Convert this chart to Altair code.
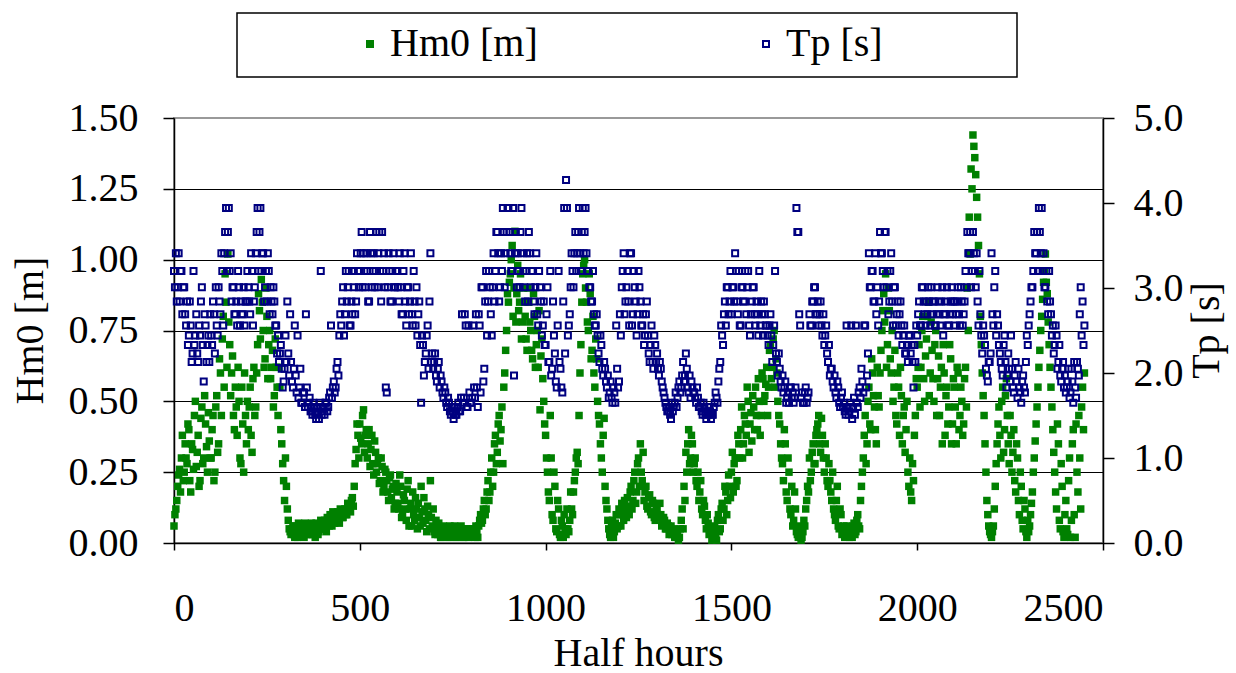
import altair as alt
import pandas as pd

FONT = "Liberation Serif"

# time axis (half hours): main samples every 5 half hours, plus in-between samples
half_hours = list(range(0, 2451, 5))
half_hours_mid = [t + 2.5 for t in range(0, 2450, 5)]

# significant wave height Hm0 [m]
hm0 = [
    0.06, 0.12, 0.20, 0.26, 0.30, 0.22, 0.35, 0.28, 0.40, 0.18, 0.33, 0.45, 0.27, 0.38, 0.22, 0.48, 0.30, 0.42, 0.25, 0.36,
    0.30, 0.45, 0.25, 0.52, 0.35, 0.60, 0.72, 0.55, 0.85, 1.02, 0.70, 0.60, 0.45, 0.55, 0.38, 0.50, 0.28, 0.42, 0.60, 0.35,
    0.40, 0.55, 0.32, 0.62, 0.48, 0.70, 0.82, 0.93, 0.75, 0.65, 0.80, 0.70, 0.58, 0.68, 0.52, 0.62, 0.45, 0.55, 0.35, 0.22,
    0.30, 0.12, 0.05, 0.03, 0.06, 0.02, 0.04, 0.07, 0.03, 0.05, 0.02, 0.06, 0.04, 0.03, 0.07, 0.05, 0.02, 0.06, 0.04, 0.08,
    0.05, 0.08, 0.04, 0.07, 0.10, 0.06, 0.09, 0.08, 0.11, 0.07, 0.10, 0.09, 0.12, 0.10, 0.13, 0.11, 0.16, 0.20, 0.33, 0.38,
    0.42, 0.35, 0.47, 0.38, 0.30, 0.40, 0.33, 0.28, 0.36, 0.25, 0.30, 0.22, 0.27, 0.20, 0.25, 0.18, 0.23, 0.16, 0.20, 0.14,
    0.18, 0.12, 0.20, 0.10, 0.15, 0.08, 0.22, 0.12, 0.06, 0.10, 0.16, 0.05, 0.09, 0.20, 0.07, 0.12, 0.04, 0.10, 0.22, 0.06,
    0.04, 0.08, 0.03, 0.05, 0.02, 0.06, 0.03, 0.04, 0.02, 0.05, 0.03, 0.06, 0.02, 0.04, 0.03, 0.05, 0.02, 0.04, 0.03, 0.05,
    0.03, 0.05, 0.02, 0.04, 0.06, 0.10, 0.08, 0.15, 0.12, 0.22, 0.18, 0.30, 0.25, 0.38, 0.32, 0.45, 0.40, 0.28, 0.60, 0.75,
    0.85, 0.95, 1.05, 0.90, 0.78, 0.98, 0.85, 0.72, 0.90, 0.80, 0.68, 0.85, 0.75, 0.65, 0.80, 0.70, 0.62, 0.47, 0.72, 0.50,
    0.38, 0.25, 0.15, 0.30, 0.08, 0.20, 0.04, 0.12, 0.02, 0.06, 0.10, 0.03, 0.05, 0.08, 0.12, 0.18, 0.25, 0.32, 0.45, 0.70,
    0.95, 1.00, 0.85, 0.75, 0.88, 0.68, 0.60, 0.72, 0.50, 0.42, 0.30, 0.38, 0.20, 0.12, 0.05, 0.02, 0.08, 0.04, 0.10, 0.06,
    0.10, 0.14, 0.08, 0.12, 0.16, 0.10, 0.20, 0.15, 0.25, 0.18, 0.30, 0.35, 0.22, 0.15, 0.20, 0.12, 0.17, 0.10, 0.14, 0.08,
    0.12, 0.09, 0.10, 0.07, 0.08, 0.05, 0.06, 0.04, 0.03, 0.05, 0.02, 0.03, 0.02, 0.08, 0.05, 0.15, 0.25, 0.40, 0.30, 0.35,
    0.28, 0.22, 0.25, 0.18, 0.12, 0.15, 0.08, 0.10, 0.03, 0.05, 0.02, 0.06, 0.01, 0.10, 0.05, 0.14, 0.12, 0.18, 0.15, 0.20,
    0.25, 0.18, 0.30, 0.22, 0.35, 0.40, 0.30, 0.45, 0.38, 0.50, 0.42, 0.36, 0.48, 0.55, 0.40, 0.50, 0.45, 0.58, 0.52, 0.62,
    0.55, 0.70, 0.62, 0.75, 0.65, 0.50, 0.42, 0.30, 0.22, 0.35, 0.15, 0.25, 0.10, 0.06, 0.18, 0.04, 0.02, 0.05, 0.02, 0.08,
    0.12, 0.20, 0.30, 0.25, 0.35, 0.28, 0.40, 0.45, 0.32, 0.38, 0.25, 0.30, 0.20, 0.22, 0.15, 0.12, 0.08, 0.20, 0.05, 0.10,
    0.04, 0.02, 0.06, 0.03, 0.05, 0.02, 0.07, 0.04, 0.10, 0.05, 0.20, 0.30, 0.45, 0.35, 0.55, 0.40, 0.60, 0.48, 0.35, 0.52,
    0.60, 0.75, 0.88, 0.95, 0.70, 0.82, 0.60, 0.50, 0.68, 0.42, 0.55, 0.62, 0.35, 0.48, 0.40, 0.25, 0.30, 0.15, 0.22, 0.45,
    0.55, 0.70, 0.62, 0.80, 0.50, 0.72, 0.85, 0.60, 0.68, 0.50, 0.75, 0.58, 0.45, 0.62, 0.70, 0.38, 0.55, 0.48, 0.65, 0.42,
    0.55, 0.35, 0.60, 0.45, 0.50, 0.42, 0.62, 0.90, 1.15, 1.32, 1.44, 1.36, 1.22, 1.05, 0.80, 0.60, 0.45, 0.25, 0.10, 0.04,
    0.02, 0.06, 0.20, 0.35, 0.48, 0.30, 0.55, 0.40, 0.58, 0.35, 0.45, 0.25, 0.40, 0.18, 0.30, 0.10, 0.20, 0.05, 0.12, 0.02,
    0.04, 0.10, 0.18, 0.30, 0.42, 0.55, 0.68, 0.80, 0.92, 1.02, 0.88, 0.70, 0.55, 0.40, 0.25, 0.12, 0.35, 0.05, 0.20, 0.02,
    0.15, 0.03, 0.30, 0.08, 0.40, 0.02, 0.25, 0.45, 0.12, 0.55, 0.60,
]

# Hm0 [m] at the in-between half hours (2.5, 7.5, ...)
hm0_mid = [
    0.10, 0.15, 0.24, 0.18, 0.38, 0.25, 0.30, 0.42, 0.22, 0.35, 0.26, 0.50, 0.32, 0.20, 0.44, 0.28, 0.52, 0.34, 0.46, 0.30,
    0.40, 0.22, 0.48, 0.32, 0.65, 0.45, 0.80, 0.95, 0.62, 0.78, 0.52, 0.66, 0.40, 0.48, 0.62, 0.30, 0.55, 0.25, 0.45, 0.50,
    0.48, 0.38, 0.58, 0.45, 0.60, 0.88, 0.72, 0.85, 0.62, 0.90, 0.58, 0.75, 0.62, 0.48, 0.72, 0.55, 0.62, 0.40, 0.28, 0.15,
    0.20, 0.08, 0.04, 0.05, 0.03, 0.06, 0.02, 0.05, 0.04, 0.03, 0.07, 0.03, 0.05, 0.06, 0.03, 0.04, 0.07, 0.03, 0.06, 0.05,
    0.07, 0.05, 0.09, 0.06, 0.08, 0.11, 0.07, 0.10, 0.08, 0.12, 0.09, 0.11, 0.10, 0.14, 0.12, 0.15, 0.13, 0.28, 0.42, 0.30,
    0.37, 0.45, 0.32, 0.40, 0.35, 0.27, 0.38, 0.24, 0.32, 0.28, 0.21, 0.30, 0.18, 0.26, 0.22, 0.15, 0.24, 0.19, 0.12, 0.21,
    0.14, 0.24, 0.09, 0.17, 0.12, 0.19, 0.06, 0.14, 0.18, 0.08, 0.12, 0.14, 0.06, 0.11, 0.16, 0.08, 0.13, 0.05, 0.09, 0.12,
    0.03, 0.05, 0.07, 0.02, 0.04, 0.03, 0.05, 0.02, 0.06, 0.03, 0.04, 0.02, 0.05, 0.03, 0.06, 0.02, 0.04, 0.05, 0.02, 0.04,
    0.04, 0.03, 0.06, 0.02, 0.08, 0.07, 0.12, 0.10, 0.18, 0.15, 0.25, 0.20, 0.35, 0.28, 0.42, 0.36, 0.48, 0.55, 0.68, 0.88,
    0.92, 1.00, 0.80, 1.10, 0.88, 0.82, 0.95, 0.78, 0.85, 0.72, 0.90, 0.78, 0.68, 0.88, 0.62, 0.75, 0.82, 0.66, 0.58, 0.42,
    0.30, 0.18, 0.45, 0.10, 0.25, 0.05, 0.15, 0.03, 0.08, 0.02, 0.05, 0.12, 0.04, 0.18, 0.10, 0.22, 0.30, 0.28, 0.60, 0.85,
    0.98, 0.90, 0.78, 0.95, 0.65, 0.80, 0.55, 0.65, 0.45, 0.35, 0.25, 0.44, 0.15, 0.08, 0.03, 0.06, 0.02, 0.07, 0.05, 0.12,
    0.06, 0.11, 0.15, 0.09, 0.13, 0.18, 0.12, 0.22, 0.14, 0.28, 0.20, 0.25, 0.32, 0.18, 0.13, 0.16, 0.11, 0.15, 0.09, 0.13,
    0.10, 0.14, 0.06, 0.09, 0.05, 0.07, 0.03, 0.06, 0.04, 0.02, 0.04, 0.01, 0.05, 0.12, 0.20, 0.32, 0.35, 0.28, 0.38, 0.25,
    0.30, 0.20, 0.15, 0.22, 0.10, 0.13, 0.05, 0.07, 0.04, 0.01, 0.04, 0.03, 0.08, 0.04, 0.12, 0.08, 0.20, 0.10, 0.24, 0.16,
    0.32, 0.28, 0.20, 0.38, 0.30, 0.48, 0.35, 0.42, 0.55, 0.32, 0.46, 0.52, 0.40, 0.45, 0.58, 0.38, 0.60, 0.50, 0.56, 0.45,
    0.68, 0.58, 0.72, 0.55, 0.60, 0.45, 0.35, 0.28, 0.40, 0.18, 0.30, 0.12, 0.20, 0.08, 0.12, 0.03, 0.06, 0.01, 0.04, 0.06,
    0.15, 0.18, 0.22, 0.32, 0.28, 0.38, 0.42, 0.35, 0.44, 0.30, 0.35, 0.22, 0.28, 0.18, 0.25, 0.10, 0.15, 0.06, 0.12, 0.03,
    0.06, 0.03, 0.05, 0.02, 0.04, 0.06, 0.03, 0.08, 0.06, 0.15, 0.25, 0.38, 0.28, 0.50, 0.42, 0.65, 0.52, 0.40, 0.62, 0.48,
    0.68, 0.82, 0.78, 0.62, 0.90, 0.65, 0.75, 0.55, 0.45, 0.60, 0.38, 0.52, 0.45, 0.32, 0.50, 0.20, 0.18, 0.28, 0.38, 0.58,
    0.62, 0.48, 0.75, 0.58, 0.66, 0.80, 0.52, 0.78, 0.58, 0.70, 0.45, 0.66, 0.55, 0.35, 0.60, 0.52, 0.42, 0.70, 0.35, 0.58,
    0.48, 0.62, 0.40, 0.55, 0.38, 0.58, 0.48, 0.75, 1.02, 1.25, 1.40, 1.30, 1.15, 0.95, 0.70, 0.52, 0.35, 0.15, 0.06, 0.03,
    0.04, 0.12, 0.28, 0.42, 0.38, 0.50, 0.32, 0.52, 0.45, 0.28, 0.38, 0.32, 0.22, 0.35, 0.15, 0.25, 0.08, 0.15, 0.04, 0.08,
    0.06, 0.14, 0.25, 0.36, 0.48, 0.62, 0.75, 0.86, 0.96, 0.92, 0.78, 0.62, 0.48, 0.32, 0.18, 0.42, 0.08, 0.28, 0.04, 0.10,
    0.05, 0.22, 0.02, 0.35, 0.10, 0.42, 0.18, 0.30, 0.48, 0.40,
]

# peak period Tp [s]
tp = [
    3.20, 3.41, 3.01, 2.84, 3.20, 3.01, 2.69, 2.84, 2.44, 2.56, 2.23, 2.33, 2.69, 2.13, 2.44, 3.01, 1.90, 2.56, 2.33, 2.13,
    2.44, 2.84, 2.23, 2.56, 3.01, 2.69, 3.20, 3.41, 3.94, 3.66, 3.20, 2.84, 3.01, 2.69, 2.56, 3.01, 2.84, 2.69, 2.56, 2.84,
    3.01, 2.69, 3.20, 2.84, 3.41, 3.94, 3.66, 3.20, 3.41, 3.01, 2.84, 3.20, 3.01, 2.69, 2.84, 2.56, 2.44, 2.23, 2.05, 1.90,
    2.44, 2.84, 1.97, 2.13, 1.83, 2.56, 1.77, 1.71, 2.05, 1.65, 1.77, 2.69, 1.60, 1.71, 1.55, 1.65, 1.51, 1.60, 1.46, 3.20,
    1.55, 1.51, 1.65, 1.60, 1.77, 1.71, 1.90, 1.83, 2.13, 2.44, 2.56, 3.01, 2.69, 2.84, 3.20, 2.56, 2.69, 3.01, 2.84, 3.20,
    3.20, 3.66, 3.41, 3.01, 3.20, 2.84, 3.41, 3.20, 3.01, 3.66, 3.41, 3.20, 3.66, 3.41, 1.83, 3.01, 3.20, 2.84, 3.41, 3.01,
    3.20, 2.84, 3.01, 2.69, 3.41, 2.56, 3.01, 2.84, 2.69, 3.20, 2.56, 2.44, 2.84, 1.65, 2.33, 2.13, 2.44, 2.05, 3.41, 2.23,
    2.13, 1.97, 2.05, 1.83, 1.90, 1.71, 1.77, 1.60, 1.65, 1.51, 1.55, 1.60, 1.51, 1.65, 1.55, 2.69, 1.71, 2.56, 1.60, 1.77,
    1.65, 2.56, 1.71, 1.83, 2.69, 1.77, 3.01, 2.05, 3.20, 2.84, 3.01, 2.44, 3.41, 3.20, 3.66, 2.84, 3.41, 3.94, 3.01, 3.66,
    3.94, 3.41, 3.20, 1.97, 3.66, 3.41, 3.01, 3.94, 3.20, 2.84, 3.41, 3.66, 3.01, 3.20, 2.69, 3.41, 2.56, 3.01, 2.44, 2.84,
    2.33, 3.01, 2.13, 1.97, 2.84, 2.23, 1.83, 3.20, 2.05, 1.77, 3.94, 4.27, 2.44, 2.69, 3.41, 3.01, 3.66, 3.41, 3.94, 3.20,
    3.94, 3.66, 3.41, 3.20, 3.01, 2.84, 2.69, 2.56, 2.44, 2.13, 2.33, 1.97, 2.05, 1.83, 1.71, 1.90, 1.65, 1.77, 2.56, 1.83,
    2.69, 3.01, 3.41, 2.84, 3.20, 2.56, 3.41, 2.69, 3.01, 2.44, 3.20, 2.84, 2.56, 2.33, 2.69, 2.44, 2.13, 2.56, 2.05, 2.33,
    2.23, 1.97, 2.05, 1.83, 1.71, 1.60, 1.55, 1.51, 1.65, 1.60, 1.77, 1.71, 1.90, 1.83, 2.13, 1.97, 2.05, 1.77, 1.71, 1.83,
    1.77, 1.65, 1.71, 1.60, 1.55, 1.65, 1.51, 1.55, 1.60, 1.46, 1.51, 1.65, 1.71, 1.90, 2.13, 2.44, 2.69, 2.56, 3.01, 2.84,
    2.69, 3.01, 3.41, 2.84, 3.20, 2.56, 3.01, 2.84, 2.69, 3.20, 2.44, 2.84, 3.01, 2.56, 2.69, 3.20, 2.84, 2.44, 2.69, 2.56,
    2.33, 2.69, 2.13, 2.56, 2.23, 1.97, 2.05, 1.83, 1.77, 1.90, 1.71, 1.65, 1.83, 1.77, 1.71, 3.94, 3.66, 2.56, 1.77, 1.65,
    1.83, 1.71, 2.69, 2.56, 2.84, 3.01, 2.69, 2.56, 2.84, 2.44, 2.33, 2.56, 2.13, 1.97, 2.05, 1.83, 1.77, 1.90, 1.65, 1.71,
    1.60, 1.55, 2.56, 1.51, 1.65, 1.46, 1.71, 2.56, 1.60, 1.83, 2.05, 1.77, 2.56, 1.97, 3.41, 3.01, 3.20, 2.84, 2.69, 2.56,
    3.66, 3.41, 3.01, 3.66, 3.20, 2.84, 3.41, 2.56, 3.01, 2.69, 2.44, 2.84, 2.33, 2.56, 2.23, 2.13, 2.44, 2.33, 1.83, 2.13,
    2.44, 2.84, 2.56, 3.01, 2.69, 2.84, 3.01, 2.56, 2.69, 2.84, 2.56, 3.01, 2.69, 2.84, 2.44, 2.69, 3.01, 2.56, 2.84, 2.69,
    2.84, 2.69, 3.01, 2.56, 2.84, 2.69, 3.20, 3.66, 3.41, 3.01, 3.66, 3.20, 3.41, 2.56, 2.69, 2.23, 2.44, 2.05, 1.90, 2.13,
    3.41, 2.56, 3.20, 2.69, 2.33, 2.13, 1.97, 2.44, 1.83, 2.23, 1.90, 2.05, 1.77, 2.13, 1.71, 1.83, 1.65, 1.97, 1.77, 2.44,
    2.56, 2.84, 3.01, 3.66, 3.41, 3.20, 3.66, 3.94, 3.41, 3.01, 2.84, 3.20, 2.69, 2.56, 2.33, 2.44, 2.13, 1.97, 2.05, 1.83,
    1.77, 1.90, 1.71, 2.05, 1.65, 1.83, 2.13, 1.97, 3.01, 2.84, 2.56,
]

# Tp [s] at the in-between half hours (2.5, 7.5, ...)
tp_mid = [
    3.01, 2.84, 3.41, 3.20, 2.69, 3.01, 2.56, 2.33, 2.84, 2.13, 3.20, 2.44, 2.23, 2.56, 2.84, 2.33, 2.69, 2.13, 2.44, 2.69,
    2.33, 2.69, 3.01, 2.44, 2.84, 3.41, 2.56, 3.66, 3.20, 3.94, 3.41, 3.01, 2.69, 2.84, 3.20, 2.56, 2.69, 3.01, 2.84, 3.20,
    2.84, 3.41, 2.56, 3.01, 3.66, 3.20, 3.94, 3.41, 2.84, 3.20, 3.41, 2.69, 2.84, 3.01, 2.56, 2.23, 2.13, 2.33, 1.83, 2.05,
    2.13, 2.23, 2.69, 1.90, 2.05, 1.97, 2.44, 1.83, 1.65, 1.77, 1.60, 1.83, 1.65, 1.55, 1.51, 1.60, 1.46, 1.55, 1.65, 1.51,
    1.60, 1.65, 1.55, 1.71, 2.56, 1.83, 1.77, 2.05, 1.97, 2.69, 2.84, 2.44, 3.20, 3.01, 2.56, 2.84, 3.20, 2.69, 3.41, 3.01,
    3.41, 3.01, 3.20, 3.41, 2.84, 3.66, 3.01, 3.41, 3.20, 3.01, 3.66, 2.84, 3.20, 3.01, 1.77, 3.41, 2.84, 3.20, 3.01, 3.20,
    3.01, 3.41, 2.69, 3.20, 2.84, 3.01, 2.69, 3.41, 2.56, 2.84, 3.01, 2.69, 2.33, 2.44, 1.97, 2.23, 2.56, 2.84, 2.13, 2.05,
    2.23, 1.90, 2.13, 1.97, 1.77, 1.83, 1.65, 1.71, 1.55, 1.60, 1.46, 1.51, 1.60, 1.55, 1.71, 1.65, 2.69, 1.60, 2.56, 1.65,
    1.71, 1.83, 2.69, 1.60, 2.56, 3.01, 1.90, 2.84, 2.44, 3.20, 2.69, 3.01, 2.84, 3.66, 3.41, 3.01, 3.20, 3.66, 3.41, 3.94,
    3.66, 3.20, 3.94, 3.41, 3.01, 3.20, 3.66, 3.41, 3.01, 3.20, 2.84, 3.41, 3.20, 2.84, 3.01, 2.69, 3.20, 2.84, 2.56, 2.33,
    2.69, 2.13, 3.20, 2.05, 2.44, 1.90, 2.56, 2.13, 1.83, 2.84, 2.23, 3.94, 2.56, 3.01, 3.20, 3.41, 3.20, 3.66, 3.41, 3.66,
    3.41, 3.94, 3.20, 3.01, 2.84, 3.20, 2.56, 2.69, 2.23, 2.44, 2.05, 2.13, 1.90, 1.97, 1.77, 1.71, 1.83, 1.65, 2.05, 1.90,
    2.44, 3.20, 2.69, 3.01, 2.84, 3.41, 2.56, 3.20, 2.84, 2.69, 3.01, 2.56, 2.69, 2.44, 2.84, 2.23, 2.33, 2.13, 2.44, 2.13,
    2.05, 2.13, 1.90, 1.77, 1.65, 1.55, 1.60, 1.46, 1.55, 1.65, 1.60, 1.83, 1.77, 1.97, 1.90, 2.23, 1.83, 1.97, 1.90, 1.77,
    1.71, 1.83, 1.60, 1.65, 1.51, 1.60, 1.46, 1.51, 1.55, 1.51, 1.60, 1.77, 1.65, 2.05, 2.56, 2.33, 2.84, 3.01, 2.69, 3.20,
    3.01, 2.84, 3.20, 2.69, 2.56, 3.01, 2.84, 3.20, 3.01, 2.56, 2.69, 3.01, 2.69, 2.84, 2.44, 2.56, 2.69, 2.84, 2.56, 2.44,
    2.56, 2.44, 2.33, 3.20, 2.13, 2.23, 1.90, 1.97, 1.83, 1.65, 1.77, 1.83, 1.71, 1.65, 1.83, 3.66, 2.69, 1.71, 1.65, 1.77,
    1.65, 1.77, 2.56, 2.84, 3.01, 2.69, 2.84, 2.69, 2.56, 2.69, 2.44, 2.23, 2.33, 2.05, 1.90, 1.97, 1.71, 1.83, 1.60, 1.77,
    1.65, 1.51, 1.60, 1.55, 2.56, 1.60, 1.51, 1.65, 1.77, 1.71, 1.90, 2.56, 1.83, 2.23, 3.01, 3.20, 2.84, 3.41, 3.01, 2.84,
    3.41, 3.20, 3.66, 3.01, 2.69, 3.20, 2.84, 3.01, 2.56, 2.84, 2.69, 2.56, 2.44, 2.23, 2.33, 2.44, 2.23, 2.13, 2.33, 2.56,
    2.69, 2.56, 3.01, 2.84, 2.56, 2.69, 2.84, 3.01, 2.84, 2.56, 2.69, 2.84, 2.56, 3.01, 2.69, 2.84, 2.56, 2.69, 3.01, 2.84,
    2.56, 2.84, 2.69, 3.01, 2.56, 2.84, 3.01, 3.41, 3.66, 3.20, 3.41, 3.01, 2.84, 3.20, 2.44, 2.56, 2.33, 1.97, 2.13, 2.23,
    2.69, 3.01, 2.44, 2.56, 2.23, 2.05, 2.33, 2.13, 1.97, 2.05, 2.44, 1.83, 1.97, 1.90, 2.05, 1.77, 1.90, 1.83, 2.13, 2.33,
    2.69, 3.01, 3.20, 3.41, 3.66, 3.94, 3.41, 3.20, 3.01, 3.20, 2.69, 2.84, 2.44, 2.23, 2.56, 2.05, 2.33, 1.90, 2.13, 1.97,
    1.83, 2.05, 1.77, 1.90, 2.13, 1.71, 2.05, 2.69, 2.44, 2.33,
]

series_names = ["Hm0 [m]", "Tp [s]"]
hm0_ticks = [0, 0.25, 0.5, 0.75, 1.0, 1.25, 1.5]
tp_ticks = [0, 1, 2, 3, 4, 5]
x_ticks = [0, 500, 1000, 1500, 2000, 2500]


def frame(times, values, name):
    n = min(len(times), len(values))
    return pd.DataFrame({"t": times[:n], "value": values[:n], "series": name})


hm_df = pd.concat([frame(half_hours, hm0, series_names[0]),
                   frame(half_hours_mid, hm0_mid, series_names[0])], ignore_index=True)
tp_df = pd.concat([frame(half_hours, tp, series_names[1]),
                   frame(half_hours_mid, tp_mid, series_names[1])], ignore_index=True)

fill_scale = alt.Scale(domain=series_names, range=["#008000", "transparent"])
stroke_scale = alt.Scale(domain=series_names, range=["#008000", "#000080"])

legend = alt.Legend(
    title=None, orient="none", legendX=176, legendY=-94, direction="horizontal",
    symbolType="square", symbolSize=36, symbolStrokeWidth=2,
    labelFont=FONT, labelFontSize=40, labelColor="black", labelOffset=0,
    columnPadding=208, padding=0, labelLimit=500,
)

x_enc = alt.X(
    "t:Q",
    scale=alt.Scale(domain=[0, 2500], nice=False, zero=False),
    axis=alt.Axis(values=x_ticks, format="d", title="Half hours", grid=False, tickSize=7,
                  labelPadding=38, titleX=464, titleY=122, titleBaseline="alphabetic"),
)

box = alt.Chart(pd.DataFrame({"a": [0]})).mark_rect(
    fill="white", stroke="black", strokeWidth=1.5
).encode(x=alt.value(63), x2=alt.value(843), y=alt.value(-105), y2=alt.value(-41))

hm_layer = alt.Chart(hm_df).mark_square(size=56, strokeWidth=0, opacity=1).encode(
    x=x_enc,
    y=alt.Y(
        "value:Q",
        scale=alt.Scale(domain=[0, 1.5], nice=False),
        axis=alt.Axis(values=hm0_ticks, format=".2f", title="Hm0 [m]", orient="left",
                      grid=True,
                      gridColor={"condition": {"test": "datum.value >= 1.5", "value": "#999999"},
                                 "value": "black"},
                      gridWidth=1, tickSize=11, labelPadding=25,
                      titleX=-132, titleY=212, titleAngle=270, titleBaseline="alphabetic"),
    ),
    fill=alt.Fill("series:N", scale=fill_scale, legend=legend),
    stroke=alt.Stroke("series:N", scale=stroke_scale, legend=legend),
)

tp_layer = alt.Chart(tp_df).mark_square(size=36, strokeWidth=2, opacity=1).encode(
    x=x_enc,
    y=alt.Y(
        "value:Q",
        scale=alt.Scale(domain=[0, 5], nice=False),
        axis=alt.Axis(values=tp_ticks, format=".1f", title="Tp [s]", orient="right",
                      grid=False, tickSize=11, labelPadding=19,
                      titleX=115, titleY=212, titleAngle=270, titleBaseline="alphabetic"),
    ),
    fill=alt.Fill("series:N", scale=fill_scale, legend=legend),
    stroke=alt.Stroke("series:N", scale=stroke_scale, legend=legend),
)

chart = (
    alt.layer(box, hm_layer, tp_layer)
    .resolve_scale(y="independent")
    .properties(
        width=929, height=425,
        autosize=alt.AutoSizeParams(type="none"),
        padding={"left": 174, "top": 118, "right": 133, "bottom": 130},
        background="white",
    )
    .configure_view(stroke="#999999", strokeWidth=2)
    .configure_axis(
        labelFont=FONT, titleFont=FONT, labelFontSize=40, titleFontSize=40,
        labelColor="black", titleColor="black", titleFontWeight="normal",
        domainColor="black", domainWidth=1.5, tickColor="black", tickWidth=1.5,
    )
)

chart.save("out.html", embed_options={"renderer": "svg", "actions": False})
